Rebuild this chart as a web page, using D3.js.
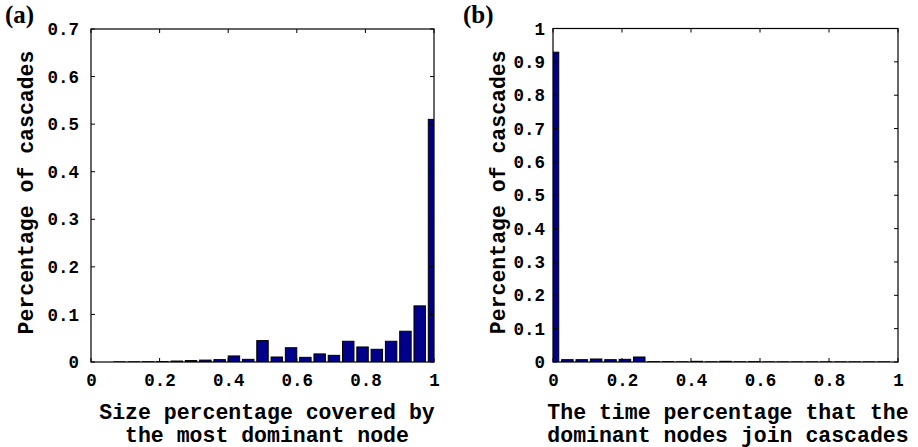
<!DOCTYPE html>
<html>
<head>
<meta charset="utf-8">
<script src="https://cdn.jsdelivr.net/npm/d3@7"></script>
<style>
  html, body { margin: 0; padding: 0; background: #fff; }
  svg { display: block; }
</style>
</head>
<body>
<svg id="chart" width="918" height="447"></svg>
<script>
// ---- data ----
const binCenters = [0, 0.0417, 0.0833, 0.125, 0.1667, 0.2083, 0.25, 0.2917, 0.3333, 0.375, 0.4167, 0.4583,
  0.5, 0.5417, 0.5833, 0.625, 0.6667, 0.7083, 0.75, 0.7917, 0.8333, 0.875, 0.9167, 0.9583, 1];
const sizeShares = [0, 0, 0.0003, 0.0003, 0.0005, 0.001, 0.002, 0.003, 0.004, 0.005, 0.0127, 0.0056,
  0.045, 0.0105, 0.030, 0.0098, 0.017, 0.014, 0.0436, 0.0316, 0.0267, 0.0436, 0.0647, 0.118, 0.51];
const timeShares = [0.929, 0.007, 0.007, 0.009, 0.007, 0.008, 0.015, 0.001, 0.001, 0.0005, 0.002, 0.0005,
  0.002, 0.0005, 0.001, 0.0003, 0.0003, 0.0003, 0.0003, 0.0003, 0.0003, 0.0003, 0.0003, 0.0003, 0];
const xTicks = [0, 0.2, 0.4, 0.6, 0.8, 1];
const xTickLabels = ["0", "0.2", "0.4", "0.6", "0.8", "1"];
const yTicksA = [0, 0.1, 0.2, 0.3, 0.4, 0.5, 0.6, 0.7];
const yTickLabelsA = ["0", "0.1", "0.2", "0.3", "0.4", "0.5", "0.6", "0.7"];
const yTicksB = [0, 0.1, 0.2, 0.3, 0.4, 0.5, 0.6, 0.7, 0.8, 0.9, 1];
const yTickLabelsB = ["0", "0.1", "0.2", "0.3", "0.4", "0.5", "0.6", "0.7", "0.8", "0.9", "1"];
const yLabel = "Percentage of cascades";
const xLabelA = ["Size percentage covered by", "the most dominant node"];
const xLabelB = ["The time percentage that the", "dominant nodes join cascades"];

const svg = d3.select("#chart");
const MONO = "'Liberation Mono', 'Courier New', monospace";
const SERIF = "'Liberation Serif', 'Times New Roman', serif";
const BAR_FILL = "#00008b";

function panel(cfg) {
  const { x0, x1, y0, y1, yMax, values, yTicks, yTickLabels, xLabel, tag, tagX, tagY,
          yLabelX, yTickRight, xLabelCx, id } = cfg;
  const x = d3.scaleLinear().domain([0, 1]).range([x0, x1]);
  const y = d3.scaleLinear().domain([0, yMax]).range([y1, y0]);
  const g = svg.append("g");

  g.append("clipPath").attr("id", id).append("rect")
    .attr("x", x0).attr("y", y0).attr("width", x1 - x0).attr("height", y1 - y0);

  const pitch = x(binCenters[1]) - x(binCenters[0]);
  const bw = pitch * 0.8;
  g.append("g").attr("clip-path", `url(#${id})`)
    .selectAll("rect").data(values).join("rect")
    .attr("x", (d, i) => x(binCenters[i]) - bw / 2)
    .attr("y", d => y(d))
    .attr("width", bw)
    .attr("height", d => y(0) - y(d))
    .attr("fill", BAR_FILL)
    .attr("stroke", "#000")
    .attr("stroke-width", 1);

  // axes with inward ticks
  const tl = 4;
  const bottom = d3.axisBottom(x).tickValues(xTicks).tickSize(0).tickFormat((d, i) => xTickLabels[i]).tickPadding(12);
  const gb = g.append("g").attr("transform", `translate(0,${y1})`).call(bottom);
  gb.select(".domain").remove();
  gb.selectAll("text").attr("font-family", MONO).attr("font-weight", "bold").attr("font-size", 17.5).attr("fill", "#000");

  const left = d3.axisLeft(y).tickValues(yTicks).tickSize(0).tickFormat((d, i) => yTickLabels[i]).tickPadding(x0 - yTickRight);
  const gl = g.append("g").attr("transform", `translate(${x0},0)`).call(left);
  gl.select(".domain").remove();
  gl.selectAll("text").attr("font-family", MONO).attr("font-weight", "bold").attr("font-size", 17.5).attr("fill", "#000");

  const tk = g.append("g").attr("stroke", "#000").attr("stroke-width", 1);
  xTicks.forEach(t => {
    tk.append("line").attr("x1", x(t)).attr("x2", x(t)).attr("y1", y1).attr("y2", y1 - tl);
    tk.append("line").attr("x1", x(t)).attr("x2", x(t)).attr("y1", y0).attr("y2", y0 + tl);
  });
  yTicks.forEach(t => {
    tk.append("line").attr("x1", x0).attr("x2", x0 + tl).attr("y1", y(t)).attr("y2", y(t));
    tk.append("line").attr("x1", x1).attr("x2", x1 - tl).attr("y1", y(t)).attr("y2", y(t));
  });
  g.append("rect").attr("x", x0).attr("y", y0).attr("width", x1 - x0).attr("height", y1 - y0)
    .attr("fill", "none").attr("stroke", "#000").attr("stroke-width", 1.2);

  // x label
  xLabel.forEach((line, i) => {
    g.append("text").attr("x", xLabelCx).attr("y", 419 + i * 23)
      .attr("text-anchor", "middle").attr("font-family", MONO).attr("font-weight", "bold")
      .attr("font-size", 21.5).attr("fill", "#000").text(line);
  });
  // y label
  g.append("text").attr("transform", `translate(${yLabelX},${(y0 + y1) / 2 - 3}) rotate(-90)`)
    .attr("text-anchor", "middle").attr("font-family", MONO).attr("font-weight", "bold")
    .attr("font-size", 21.5).attr("fill", "#000").text(yLabel);
  // panel tag
  g.append("text").attr("x", tagX).attr("y", tagY).attr("font-family", SERIF).attr("font-weight", "bold")
    .attr("font-size", 25).attr("fill", "#000").text(tag);
}

panel({ id: "clipA", x0: 91, x1: 434, y0: 29, y1: 362, yMax: 0.7, values: sizeShares,
  yTicks: yTicksA, yTickLabels: yTickLabelsA, xLabel: xLabelA, tag: "(a)", tagX: 5, tagY: 23,
  yLabelX: 33, yTickRight: 79, xLabelCx: 267 });
panel({ id: "clipB", x0: 553, x1: 898, y0: 28.5, y1: 362, yMax: 1, values: timeShares,
  yTicks: yTicksB, yTickLabels: yTickLabelsB, xLabel: xLabelB, tag: "(b)", tagX: 463, tagY: 23,
  yLabelX: 505, yTickRight: 545, xLabelCx: 728 });
</script>
</body>
</html>
